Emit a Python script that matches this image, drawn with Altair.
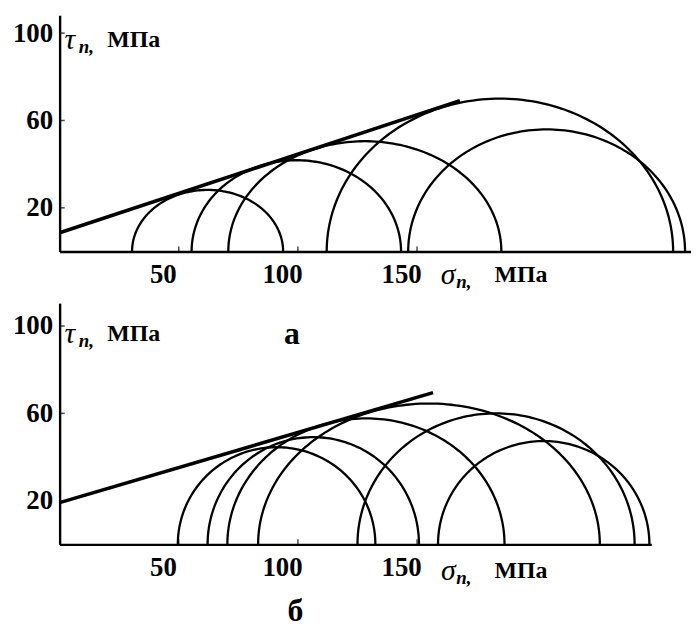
import altair as alt
import pandas as pd
import numpy as np

SERIF = "Liberation Serif"

# ---- Panel а: Mohr circles (left / right intercepts on σn axis, peak τn) ----
a_sigma3 = [30.4, 55.4, 70.8, 112.1, 146.3]
a_sigma1 = [93.8, 143.3, 185.4, 257.5, 262.5]
a_taumax = [28.2, 41.8, 50.5, 70.0, 55.9]
a_env_x = [0, 168]
a_env_y = [8.6, 69.1]

# ---- Panel б ----
b_sigma3 = [49.6, 62.1, 70.4, 83.3, 125.0, 158.8]
b_sigma1 = [132.5, 150.8, 186.7, 226.7, 241.3, 247.5]
b_taumax = [44.5, 49.1, 57.7, 64.5, 60.0, 47.3]
b_env_x = [0, 156.7]
b_env_y = [19.1, 69.5]

x_ticks = [50, 100, 150]
y_ticks = [20, 60, 100]


def semicircles(s3, s1, h):
    t = np.linspace(0, np.pi, 121)
    rows = []
    for k, (a, b, m) in enumerate(zip(s3, s1, h)):
        c, r = (a + b) / 2, (b - a) / 2
        for i, ti in enumerate(t):
            rows.append({"k": k, "i": i, "x": c - r * np.cos(ti), "y": m * np.sin(ti)})
    return pd.DataFrame(rows)


def txt(df, size, weight="bold", style="normal", dy=0, align="left"):
    return alt.Chart(df).mark_text(
        font=SERIF, fontSize=size, fontWeight=weight, fontStyle=style,
        dy=dy, align=align, baseline="middle", color="black", clip=False
    ).encode(x="x:Q", y="y:Q", text="t:N")


def panel(s3, s1, h, ex, ey, xmax, ymax, w, ht, tau_y, sig_y, extra):
    xs = alt.Scale(domain=[0, xmax], nice=False, zero=False)
    ys = alt.Scale(domain=[0, ymax], nice=False, zero=False)
    xax = alt.Axis(values=x_ticks, title=None, grid=False, ticks=False, tickSize=0,
                   labelOffset=-16, labelPadding=10, labelFont=SERIF, labelFontSize=27,
                   labelFontWeight="bold", labelColor="black",
                   domainColor="black", domainWidth=2.4)
    yax = alt.Axis(values=y_ticks, title=None, grid=False, ticks=False, tickSize=0,
                   labelPadding=7, labelFont=SERIF, labelFontSize=27,
                   labelFontWeight="bold", labelColor="black",
                   domainColor="black", domainWidth=2.4)
    circ = alt.Chart(semicircles(s3, s1, h)).mark_line(
        color="black", strokeWidth=2.3, clip=False
    ).encode(
        x=alt.X("x:Q", scale=xs, axis=xax),
        y=alt.Y("y:Q", scale=ys, axis=yax),
        detail="k:N", order="i:Q",
    )
    env = alt.Chart(pd.DataFrame({"x": ex, "y": ey})).mark_line(
        color="black", strokeWidth=3.6
    ).encode(x="x:Q", y="y:Q")
    yt = alt.Chart(pd.DataFrame({"x": [1.1] * 3, "y": y_ticks})).mark_tick(
        orient="horizontal", size=5, thickness=1.5, color="black"
    ).encode(x="x:Q", y="y:Q")
    xt = alt.Chart(pd.DataFrame({"x": x_ticks, "y": [1.2] * 3})).mark_tick(
        orient="vertical", size=5, thickness=1.5, color="black"
    ).encode(x="x:Q", y="y:Q")
    labels = [
        txt(pd.DataFrame({"x": [2.0], "y": [tau_y], "t": ["τ"]}), 30, "normal", "italic"),
        txt(pd.DataFrame({"x": [8.0], "y": [tau_y], "t": ["n,"]}), 19, "bold", "italic", dy=7),
        txt(pd.DataFrame({"x": [20], "y": [tau_y], "t": ["МПа"]}), 24),
        txt(pd.DataFrame({"x": [160], "y": [sig_y], "t": ["σ"]}), 30, "normal", "italic"),
        txt(pd.DataFrame({"x": [166.5], "y": [sig_y], "t": ["n,"]}), 19, "bold", "italic", dy=7),
        txt(pd.DataFrame({"x": [182.5], "y": [sig_y], "t": ["МПа"]}), 24),
    ]
    return alt.layer(circ, env, yt, xt, *labels, *extra).properties(width=w, height=ht)


mark_a = txt(pd.DataFrame({"x": [97.5], "y": [96.4], "t": ["а"]}), 32, align="center")
mark_b = txt(pd.DataFrame({"x": [99], "y": [-30.5], "t": ["б"]}), 32, align="center")

top = panel(a_sigma3, a_sigma1, a_taumax, a_env_x, a_env_y,
            265, 108.2, 636, 238, 96.8, -11, [])
bottom = panel(b_sigma3, b_sigma1, b_taumax, b_env_x, b_env_y,
               248.3, 110.5, 596, 243, 96.4, -12.3, [mark_a, mark_b])

chart = alt.vconcat(top, bottom, spacing=52, bounds="flush").properties(
    padding={"left": 4, "top": 5, "right": 0, "bottom": 0},
    background="white",
).configure_view(stroke=None)

chart.save("out.html", embed_options={"renderer": "svg", "actions": False})
